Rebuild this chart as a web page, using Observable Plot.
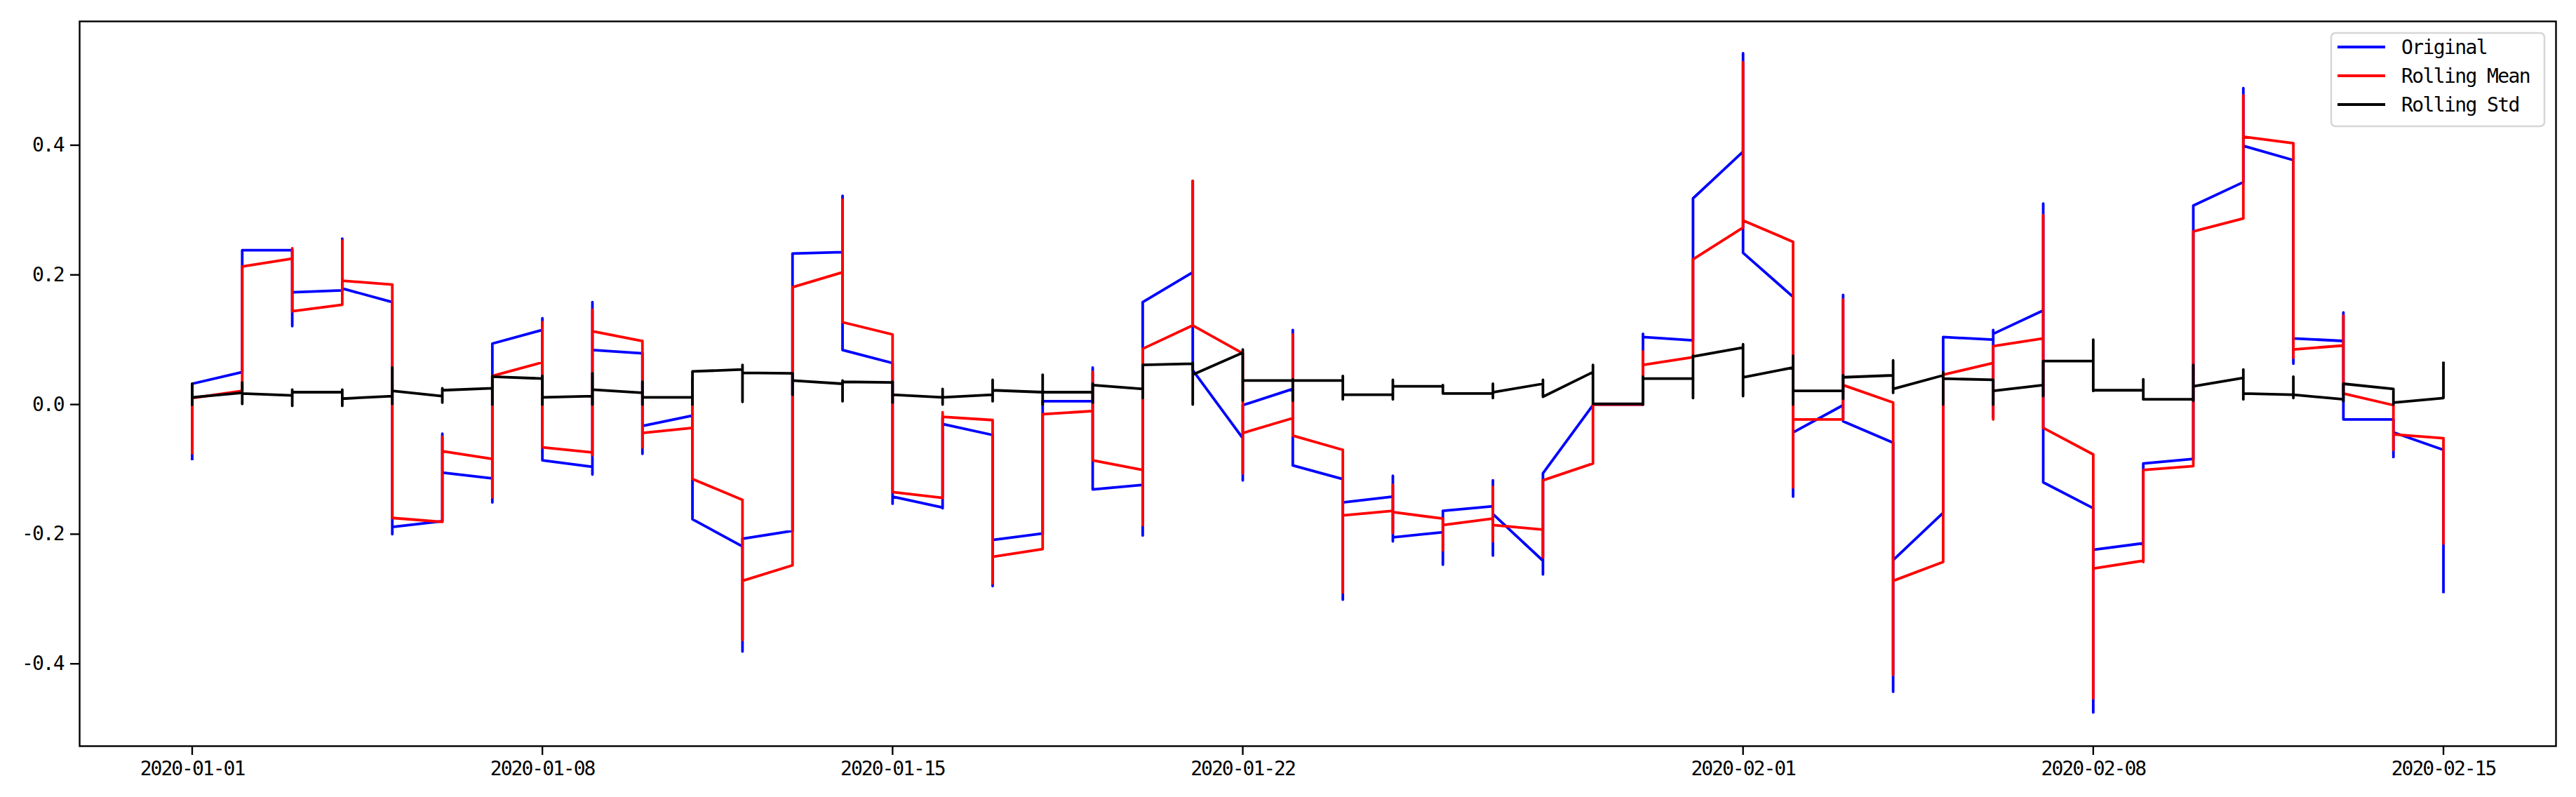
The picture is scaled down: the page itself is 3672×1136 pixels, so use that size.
<!DOCTYPE html>
<html>
<head>
<meta charset="utf-8">
<script src="https://cdn.jsdelivr.net/npm/d3@7"></script>
<script src="https://cdn.jsdelivr.net/npm/@observablehq/plot@0.6"></script>
<style>
  html, body { margin: 0; padding: 0; background: #fff; }
  #wrap { position: relative; width: 3672px; height: 1136px; overflow: hidden; }
  #wrap svg text { letter-spacing: -2px; }
  .overlay { position: absolute; left: 0; top: 0; pointer-events: none; }
</style>
</head>
<body>
<div id="wrap"></div>
<script>
// ---- data: one entry per day starting 2020-01-01, each [in, low, high, out] ----
const startDate = "2020-01-01";
const original = [
  [-0.084, -0.084, 0.032, 0.032], [0.050, 0.050, 0.238, 0.238], [0.238, 0.121, 0.238, 0.173], [0.176, 0.176, 0.256, 0.179],
  [0.158, -0.200, 0.158, -0.189], [-0.180, -0.180, -0.045, -0.105], [-0.114, -0.151, 0.094, 0.094], [0.115, -0.086, 0.133, -0.086],
  [-0.096, -0.108, 0.158, 0.084], [0.079, -0.076, 0.079, -0.033], [-0.017, -0.177, 0.040, -0.177], [-0.219, -0.381, -0.207, -0.207],
  [-0.195, -0.195, 0.233, 0.233], [0.235, 0.084, 0.322, 0.084], [0.064, -0.153, 0.064, -0.142], [-0.159, -0.160, -0.020, -0.030],
  [-0.047, -0.280, -0.047, -0.209], [-0.199, -0.199, 0.005, 0.005], [0.005, -0.131, 0.057, -0.131], [-0.124, -0.202, 0.158, 0.158],
  [0.204, 0.053, 0.345, 0.053], [-0.052, -0.117, -0.001, -0.001], [0.024, -0.094, 0.115, -0.094], [-0.115, -0.301, -0.115, -0.151],
  [-0.142, -0.211, -0.110, -0.205], [-0.197, -0.247, -0.164, -0.164], [-0.157, -0.233, -0.117, -0.169], [-0.241, -0.262, -0.106, -0.106],
  [-0.001, -0.001, 0.000, 0.000], [0.000, 0.000, 0.109, 0.104], [0.099, 0.099, 0.318, 0.318], [0.390, 0.234, 0.542, 0.234],
  [0.166, -0.142, 0.166, -0.043], [-0.001, -0.026, 0.169, -0.026], [-0.059, -0.443, -0.059, -0.240], [-0.167, -0.167, 0.104, 0.104],
  [0.100, -0.020, 0.115, 0.109], [0.145, -0.120, 0.310, -0.120], [-0.160, -0.475, -0.160, -0.224], [-0.214, -0.218, -0.091, -0.091],
  [-0.084, -0.084, 0.307, 0.307], [0.343, 0.343, 0.488, 0.399], [0.377, 0.063, 0.377, 0.102], [0.098, -0.023, 0.142, -0.023],
  [-0.023, -0.081, -0.023, -0.043], [-0.070, -0.289, -0.070, -0.289]
];
const rollingMean = [
  [-0.075, -0.075, 0.010, 0.010], [0.021, 0.021, 0.213, 0.213], [0.225, 0.144, 0.241, 0.144], [0.154, 0.154, 0.253, 0.191],
  [0.185, -0.175, 0.185, -0.175], [-0.181, -0.181, -0.050, -0.072], [-0.084, -0.143, 0.044, 0.044], [0.065, -0.066, 0.127, -0.066],
  [-0.074, -0.078, 0.146, 0.113], [0.098, -0.066, 0.098, -0.044], [-0.036, -0.115, 0.030, -0.115], [-0.147, -0.363, -0.147, -0.272],
  [-0.248, -0.248, 0.181, 0.181], [0.204, 0.127, 0.316, 0.127], [0.108, -0.135, 0.108, -0.135], [-0.144, -0.144, -0.012, -0.019],
  [-0.024, -0.276, -0.024, -0.235], [-0.223, -0.223, -0.015, -0.015], [-0.010, -0.086, 0.050, -0.086], [-0.101, -0.186, 0.086, 0.086],
  [0.122, 0.122, 0.345, 0.122], [0.079, -0.106, 0.079, -0.044], [-0.021, -0.048, 0.108, -0.048], [-0.070, -0.290, -0.070, -0.171],
  [-0.164, -0.198, -0.124, -0.166], [-0.176, -0.225, -0.176, -0.186], [-0.176, -0.211, -0.127, -0.186], [-0.193, -0.236, -0.117, -0.117],
  [-0.091, -0.091, 0.000, 0.000], [0.000, 0.000, 0.082, 0.061], [0.073, 0.073, 0.224, 0.224], [0.273, 0.273, 0.528, 0.284],
  [0.251, -0.128, 0.251, -0.023], [-0.023, -0.023, 0.162, 0.030], [0.003, -0.417, 0.003, -0.272], [-0.243, -0.243, 0.046, 0.046],
  [0.064, -0.023, 0.090, 0.090], [0.102, -0.036, 0.292, -0.036], [-0.077, -0.453, -0.077, -0.253], [-0.241, -0.243, -0.101, -0.101],
  [-0.095, -0.095, 0.267, 0.267], [0.287, 0.287, 0.477, 0.413], [0.403, 0.072, 0.403, 0.085], [0.091, 0.017, 0.137, 0.017],
  [-0.001, -0.070, -0.001, -0.046], [-0.052, -0.214, -0.052, -0.214]
];
const rollingStd = [
  [0.000, 0.000, 0.032, 0.011], [0.018, 0.001, 0.034, 0.017], [0.014, -0.002, 0.023, 0.019], [0.019, -0.002, 0.023, 0.009],
  [0.013, 0.001, 0.057, 0.021], [0.013, 0.003, 0.025, 0.022], [0.025, 0.000, 0.044, 0.043], [0.040, 0.000, 0.044, 0.011],
  [0.013, 0.000, 0.048, 0.023], [0.018, 0.000, 0.035, 0.011], [0.011, 0.000, 0.051, 0.051], [0.054, 0.004, 0.061, 0.049],
  [0.048, 0.015, 0.048, 0.037], [0.032, 0.005, 0.037, 0.035], [0.034, 0.003, 0.035, 0.015], [0.011, 0.000, 0.024, 0.011],
  [0.015, 0.005, 0.038, 0.022], [0.019, 0.000, 0.046, 0.019], [0.019, 0.003, 0.032, 0.030], [0.024, 0.010, 0.061, 0.061],
  [0.063, 0.000, 0.064, 0.046], [0.080, 0.006, 0.085, 0.037], [0.037, 0.006, 0.039, 0.037], [0.037, 0.008, 0.044, 0.015],
  [0.015, 0.008, 0.038, 0.028], [0.028, 0.018, 0.030, 0.017], [0.017, 0.010, 0.032, 0.019], [0.032, 0.012, 0.038, 0.012],
  [0.050, 0.001, 0.061, 0.001], [0.001, 0.000, 0.043, 0.040], [0.040, 0.010, 0.075, 0.074], [0.088, 0.013, 0.093, 0.042],
  [0.057, 0.000, 0.075, 0.021], [0.021, 0.009, 0.045, 0.042], [0.045, 0.018, 0.068, 0.024], [0.045, 0.000, 0.050, 0.040],
  [0.038, 0.000, 0.038, 0.021], [0.030, 0.013, 0.067, 0.067], [0.067, 0.021, 0.100, 0.022], [0.022, 0.008, 0.039, 0.008],
  [0.008, 0.006, 0.061, 0.028], [0.041, 0.008, 0.054, 0.017], [0.015, 0.010, 0.043, 0.015], [0.008, 0.005, 0.032, 0.032],
  [0.024, 0.000, 0.024, 0.003], [0.010, 0.010, 0.064, 0.064]
];
const seriesNames = ["Original", "Rolling Mean", "Rolling Std"];
const seriesColors = ["blue", "red", "black"];
const xTickLabels = ["2020-01-01", "2020-01-08", "2020-01-15", "2020-01-22", "2020-02-01", "2020-02-08", "2020-02-15"];
const yTickValues = [-0.4, -0.2, 0.0, 0.2, 0.4];

// ---- build table ----
const DAY = 864e5;
const t0 = new Date(startDate + "T00:00:00Z").getTime();
function toRows(name, quads) {
  return quads.flatMap((q, i) => q.map(v => ({series: name, date: new Date(t0 + i * DAY), value: v})));
}
const rows = [
  ...toRows(seriesNames[0], original),
  ...toRows(seriesNames[1], rollingMean),
  ...toRows(seriesNames[2], rollingStd)
];
const nDays = original.length;
const xDomain = [new Date(t0 - 2.25 * DAY), new Date(t0 + (nDays - 1 + 2.25) * DAY)];
const xTicks = xTickLabels.map(s => new Date(s + "T00:00:00Z"));
const fmtDate = d3.utcFormat("%Y-%m-%d");

const W = 3672, H = 1136;
const mL = 113, mR = 29, mT = 30, mB = 73;
const FONT = "'DejaVu Sans Mono', monospace";

const chart = Plot.plot({
  width: W,
  height: H,
  marginLeft: mL,
  marginRight: mR,
  marginTop: mT,
  marginBottom: mB,
  style: {fontFamily: FONT, fontSize: "28px", color: "black", background: "white", overflow: "visible"},
  x: {type: "utc", domain: xDomain},
  y: {domain: [-0.527, 0.591]},
  color: {domain: seriesNames, range: seriesColors},
  marks: [
    Plot.line(rows, {
      x: "date", y: "value", z: "series", stroke: "series",
      strokeWidth: 3.8, strokeLinejoin: "round", strokeLinecap: "square"
    }),
    Plot.frame({stroke: "black", strokeWidth: 2.4}),
    Plot.axisX({
      ticks: xTicks, tickFormat: fmtDate, tickSize: 13, tickPadding: 9,
      strokeWidth: 2.4, label: null, fill: "black"
    }),
    Plot.axisY({
      ticks: yTickValues, tickFormat: v => v.toFixed(1), tickSize: 13, tickPadding: 10,
      strokeWidth: 2.4, label: null, fill: "black"
    })
  ]
});
const wrap = document.getElementById("wrap");
wrap.appendChild(chart);

// ---- overlay: legend (matplotlib style, upper right) ----
const ov = d3.select(wrap).append("svg")
  .attr("class", "overlay").attr("width", W).attr("height", H)
  .style("font-family", FONT);

const lg = ov.append("g");
lg.append("rect")
  .attr("x", 3323).attr("y", 47).attr("width", 304).attr("height", 133)
  .attr("rx", 6).attr("ry", 6)
  .attr("fill", "white").attr("fill-opacity", 0.8)
  .attr("stroke", "#d6d6d6").attr("stroke-width", 2.5);
const rowY = [67, 108, 149];
seriesNames.forEach((name, i) => {
  lg.append("line")
    .attr("x1", 3332).attr("x2", 3400).attr("y1", rowY[i]).attr("y2", rowY[i])
    .attr("stroke", seriesColors[i]).attr("stroke-width", 4);
  lg.append("text")
    .attr("x", 3423).attr("y", rowY[i]).attr("dy", "0.36em")
    .style("font-size", "28px").style("letter-spacing", "-1.6px")
    .attr("fill", "black")
    .text(name);
});
</script>
</body>
</html>
